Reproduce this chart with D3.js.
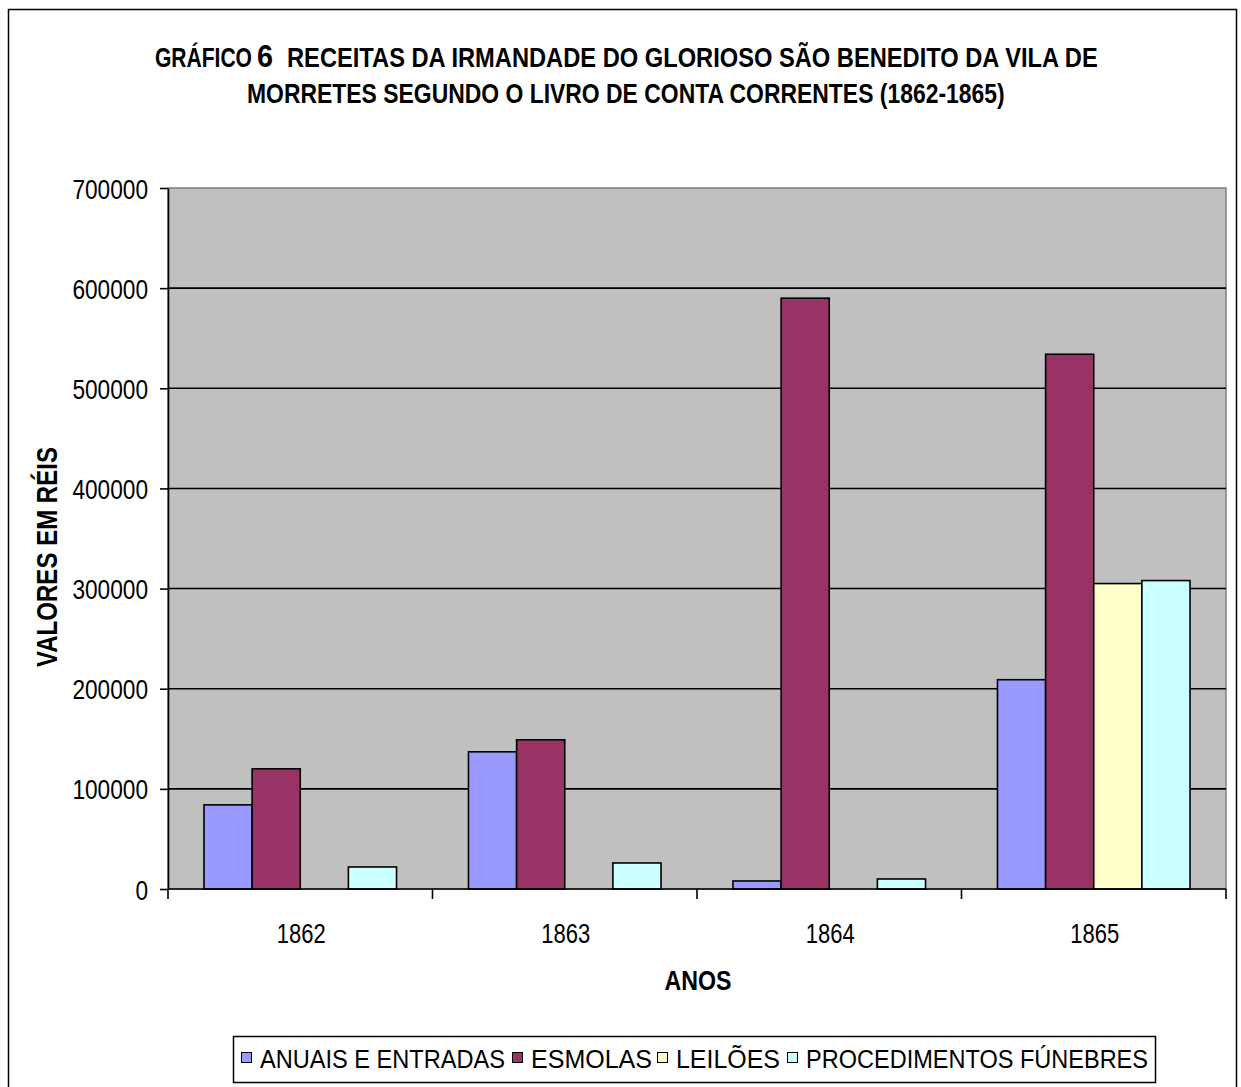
<!DOCTYPE html>
<html>
<head>
<meta charset="utf-8">
<script src="https://cdn.jsdelivr.net/npm/d3@7"></script>
<style>
  html, body { margin: 0; padding: 0; background: #fff; }
  svg { display: block; font-family: "Liberation Sans", Arial, sans-serif; }
</style>
</head>
<body>
<svg id="chart" width="1241" height="1087"></svg>
<script>
// Receitas da irmandade por ano (valores em réis)
const years = ["1862", "1863", "1864", "1865"];
const seriesNames = ["ANUAIS E ENTRADAS", "ESMOLAS", "LEILÕES", "PROCEDIMENTOS FÚNEBRES"];
const seriesColors = ["#9999FF", "#993366", "#FFFFCC", "#CCFFFF"];
const anuaisEntradas = [84000, 137000, 8000, 209000];
const esmolas = [120000, 149000, 590000, 534000];
const leiloes = [0, 0, 0, 305000];
const procedimentosFunebres = [22000, 26000, 10000, 308000];
const yTicks = [0, 100000, 200000, 300000, 400000, 500000, 600000, 700000];

const seriesValues = [anuaisEntradas, esmolas, leiloes, procedimentosFunebres];

const svg = d3.select("#chart");

// squeeze a text horizontally to a given width (condensed look), keeping its left edge at x
function condensed(parent, txt, x, y, width, size, bold) {
  const t = parent.append("text")
    .attr("x", 0).attr("y", 0)
    .attr("font-size", size).attr("font-weight", bold ? "bold" : "normal")
    .attr("fill", "#000")
    .text(txt);
  const w = t.node().getComputedTextLength();
  t.attr("transform", `translate(${x},${y}) scale(${width / w},1)`);
  return t;
}

// outer chart frame
svg.append("rect")
  .attr("x", 8.5).attr("y", 9.5)
  .attr("width", 1228).attr("height", 1100)
  .attr("fill", "#fff").attr("stroke", "#000").attr("stroke-width", 1.5);

// title: condensed bold pieces, the chart number set larger
condensed(svg, "GRÁFICO", 155, 67, 97, 28, true);
condensed(svg, "6", 257, 67, 16, 32, true);
condensed(svg, "RECEITAS DA IRMANDADE DO GLORIOSO SÃO BENEDITO DA VILA DE", 287, 67, 811, 28, true);
condensed(svg, "MORRETES SEGUNDO O LIVRO DE CONTA CORRENTES (1862-1865)", 247, 103, 758, 28, true);

const plot = { left: 168, right: 1226, top: 188, bottom: 889 };

const y = d3.scaleLinear().domain([0, 700000]).range([plot.bottom, plot.top]);
const x = d3.scaleBand().domain(years).range([plot.left, plot.right]).paddingInner(0).paddingOuter(0);
const catW = x.bandwidth();
const gap = catW * 0.136;
const xs = d3.scaleBand().domain(d3.range(seriesNames.length)).range([gap, catW - gap]).padding(0);

// plot area background
svg.append("rect")
  .attr("x", plot.left).attr("y", plot.top)
  .attr("width", plot.right - plot.left).attr("height", plot.bottom - plot.top)
  .attr("fill", "#C0C0C0").attr("stroke", "#808080").attr("stroke-width", 1.5);

// horizontal gridlines
svg.append("g").selectAll("line")
  .data(yTicks.filter(t => t > 0 && t < 700000))
  .enter().append("line")
  .attr("x1", plot.left).attr("x2", plot.right)
  .attr("y1", d => y(d)).attr("y2", d => y(d))
  .attr("stroke", "#000").attr("stroke-width", 1.6);

// bars
const groups = svg.append("g").selectAll("g")
  .data(years).enter().append("g")
  .attr("transform", d => `translate(${x(d)},0)`);

groups.selectAll("rect")
  .data((yr, i) => seriesValues.map((vals, s) => ({ s, v: vals[i] })).filter(d => d.v > 0))
  .enter().append("rect")
  .attr("x", d => xs(d.s))
  .attr("width", xs.bandwidth())
  .attr("y", d => y(d.v))
  .attr("height", d => y(0) - y(d.v))
  .attr("fill", d => seriesColors[d.s])
  .attr("stroke", "#000").attr("stroke-width", 1.6);

// y axis
const yAxis = d3.axisLeft(y).tickValues(yTicks).tickSize(8).tickSizeOuter(0).tickFormat(d3.format("d"));
const yg = svg.append("g").attr("transform", `translate(${plot.left},0)`).call(yAxis);
yg.select(".domain").attr("stroke", "#000").attr("stroke-width", 1.6);
yg.selectAll(".tick line").attr("stroke", "#000").attr("stroke-width", 1.6);
yg.selectAll(".tick text")
  .attr("x", -20).attr("dy", "0.36em")
  .attr("font-size", 28).attr("font-family", "Liberation Sans, Arial, sans-serif")
  .attr("fill", "#000")
  .attr("textLength", d => String(d).length * 12.6).attr("lengthAdjust", "spacingAndGlyphs");

// x axis with ticks at category boundaries
const xg = svg.append("g").attr("transform", `translate(0,${plot.bottom})`);
xg.append("line").attr("x1", plot.left).attr("x2", plot.right)
  .attr("stroke", "#000").attr("stroke-width", 1.6);
const boundaries = years.map(d => x(d)).concat([x(years[years.length - 1]) + catW]);
xg.selectAll("line.tk").data(boundaries).enter().append("line")
  .attr("class", "tk")
  .attr("x1", d => d).attr("x2", d => d).attr("y1", 0).attr("y2", 10)
  .attr("stroke", "#000").attr("stroke-width", 1.6);
xg.selectAll("text").data(years).enter().append("text")
  .attr("x", d => x(d) + catW / 2 + 1).attr("y", 54)
  .attr("text-anchor", "middle")
  .attr("font-size", 28).attr("fill", "#000")
  .attr("textLength", 49).attr("lengthAdjust", "spacingAndGlyphs")
  .text(d => d);

// axis titles
svg.append("text")
  .attr("x", 698).attr("y", 990)
  .attr("text-anchor", "middle")
  .attr("font-size", 27).attr("font-weight", "bold")
  .attr("textLength", 67).attr("lengthAdjust", "spacingAndGlyphs")
  .text("ANOS");

svg.append("text")
  .attr("transform", "translate(57,557) rotate(-90)")
  .attr("text-anchor", "middle")
  .attr("font-size", 29).attr("font-weight", "bold")
  .attr("textLength", 220).attr("lengthAdjust", "spacingAndGlyphs")
  .text("VALORES EM RÉIS");

// legend
const legendItems = [
  { m: 241, t: 260, len: 245 },
  { m: 512, t: 531, len: 121 },
  { m: 657, t: 676, len: 104 },
  { m: 787, t: 806, len: 342 }
];
const legend = svg.append("g");
legend.append("rect")
  .attr("x", 233.5).attr("y", 1036.5).attr("width", 922).attr("height", 46)
  .attr("fill", "#fff").attr("stroke", "#000").attr("stroke-width", 1.5);
legend.selectAll("rect.sw").data(seriesNames).enter().append("rect")
  .attr("class", "sw")
  .attr("x", (d, i) => legendItems[i].m + 0.5).attr("y", 1052.5)
  .attr("width", 10).attr("height", 10)
  .attr("fill", (d, i) => seriesColors[i]).attr("stroke", "#000").attr("stroke-width", 1);
legend.selectAll("text").data(seriesNames).enter().append("text")
  .attr("x", (d, i) => legendItems[i].t).attr("y", 1068)
  .attr("font-size", 25).attr("fill", "#000")
  .attr("textLength", (d, i) => legendItems[i].len).attr("lengthAdjust", "spacingAndGlyphs")
  .text(d => d);
</script>
</body>
</html>
